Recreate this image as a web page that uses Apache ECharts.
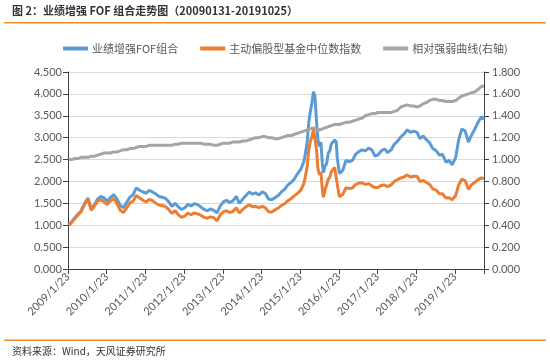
<!DOCTYPE html>
<html>
<head>
<meta charset="utf-8">
<script src="https://cdn.jsdelivr.net/npm/echarts@6/dist/echarts.min.js"></script>
<style>
html,body{margin:0;padding:0;background:#fff;}
#c{width:550px;height:364px;}
</style>
</head>
<body>
<div id="c"></div>
<script>
const dates = [
'2009-01-31','2009-02-27','2009-03-31','2009-04-30','2009-05-27','2009-06-30','2009-07-31','2009-08-31','2009-09-30','2009-10-30','2009-11-30','2009-12-31',
'2010-01-29','2010-02-26','2010-03-31','2010-04-30','2010-05-31','2010-06-30','2010-07-30','2010-08-31','2010-09-30','2010-10-29','2010-11-30','2010-12-31',
'2011-01-31','2011-02-28','2011-03-31','2011-04-29','2011-05-31','2011-06-30','2011-07-29','2011-08-31','2011-09-30','2011-10-31','2011-11-30','2011-12-30',
'2012-01-31','2012-02-29','2012-03-30','2012-04-27','2012-05-31','2012-06-29','2012-07-31','2012-08-31','2012-09-28','2012-10-31','2012-11-30','2012-12-31',
'2013-01-31','2013-02-28','2013-03-29','2013-04-26','2013-05-31','2013-06-28','2013-07-31','2013-08-30','2013-09-30','2013-10-31','2013-11-29','2013-12-31',
'2014-01-30','2014-02-28','2014-03-31','2014-04-30','2014-05-30','2014-06-30','2014-07-31','2014-08-29','2014-09-30','2014-10-31','2014-11-28','2014-12-31',
'2015-01-30','2015-02-27','2015-03-13','2015-03-31','2015-04-15','2015-04-30','2015-05-15','2015-05-29','2015-06-12','2015-06-26','2015-07-10','2015-07-24',
'2015-08-07','2015-08-21','2015-08-31','2015-09-15','2015-09-30','2015-10-16','2015-10-30','2015-11-13','2015-11-30','2015-12-15','2015-12-31',
'2016-01-08','2016-01-22','2016-01-29','2016-02-29','2016-03-31','2016-04-29','2016-05-31','2016-06-30','2016-07-29','2016-08-31','2016-09-30','2016-10-31','2016-11-30','2016-12-30',
'2017-01-26','2017-02-28','2017-03-31','2017-04-28','2017-05-31','2017-06-30','2017-07-31','2017-08-31','2017-09-29','2017-10-31','2017-11-30','2017-12-29',
'2018-01-31','2018-02-28','2018-03-30','2018-04-27','2018-05-31','2018-06-29','2018-07-31','2018-08-31','2018-09-28','2018-10-31','2018-11-30','2018-12-28',
'2019-01-31','2019-02-28','2019-03-29','2019-04-30','2019-05-31','2019-06-28','2019-07-31','2019-08-30','2019-09-30','2019-10-25'
];
const fofValues = [
1.00,1.08,1.18,1.26,1.33,1.50,1.62,1.36,1.47,1.60,1.66,1.62,
1.55,1.63,1.70,1.60,1.45,1.40,1.52,1.64,1.70,1.85,1.80,1.76,
1.73,1.80,1.76,1.72,1.66,1.64,1.62,1.54,1.43,1.50,1.42,1.36,
1.40,1.48,1.44,1.49,1.47,1.42,1.36,1.33,1.37,1.34,1.28,1.44,
1.54,1.57,1.52,1.55,1.66,1.50,1.60,1.68,1.76,1.71,1.74,1.69,
1.76,1.73,1.60,1.58,1.63,1.68,1.76,1.82,1.92,1.98,2.05,2.18,
2.28,2.45,2.62,2.90,3.35,3.60,3.80,4.05,3.95,3.40,2.95,2.80,
2.90,2.40,2.20,2.35,2.40,2.65,2.70,2.85,2.90,2.95,2.90,
2.55,2.30,2.18,2.25,2.48,2.45,2.48,2.62,2.68,2.72,2.70,2.76,2.72,2.58,
2.60,2.70,2.74,2.66,2.72,2.85,2.92,3.02,3.08,3.18,3.12,3.15,
3.12,2.98,3.04,2.96,2.88,2.75,2.70,2.60,2.62,2.44,2.48,2.38,
2.55,2.95,3.20,3.15,2.90,3.05,3.20,3.35,3.48,3.42
];
const indexValues = [
1.00,1.07,1.16,1.24,1.31,1.48,1.60,1.34,1.44,1.55,1.58,1.53,
1.47,1.55,1.61,1.50,1.34,1.29,1.39,1.51,1.55,1.68,1.62,1.57,
1.53,1.59,1.56,1.51,1.46,1.45,1.43,1.36,1.27,1.33,1.24,1.18,
1.21,1.28,1.24,1.28,1.26,1.23,1.18,1.16,1.19,1.17,1.10,1.24,
1.31,1.33,1.29,1.31,1.40,1.28,1.36,1.42,1.47,1.42,1.43,1.40,
1.43,1.40,1.31,1.30,1.35,1.39,1.45,1.49,1.56,1.61,1.67,1.73,
1.80,1.95,2.10,2.35,2.72,2.92,3.02,3.20,3.22,2.75,2.30,2.15,
2.22,1.82,1.64,1.80,1.83,2.05,2.10,2.22,2.25,2.32,2.28,
1.95,1.75,1.65,1.70,1.86,1.84,1.85,1.93,1.96,1.97,1.93,1.95,1.90,1.86,
1.86,1.91,1.92,1.88,1.92,2.00,2.04,2.08,2.10,2.15,2.10,2.12,
2.12,2.00,2.02,1.98,1.93,1.83,1.80,1.72,1.72,1.62,1.63,1.58,
1.68,1.92,2.05,2.02,1.82,1.92,1.98,2.04,2.08,2.07
];
const rsValues = [
1.00,1.00,1.01,1.01,1.02,1.02,1.02,1.03,1.03,1.04,1.05,1.06,
1.06,1.06,1.07,1.07,1.08,1.09,1.09,1.10,1.10,1.11,1.12,1.12,
1.12,1.13,1.13,1.13,1.13,1.13,1.13,1.13,1.13,1.14,1.14,1.15,
1.15,1.15,1.15,1.15,1.15,1.15,1.14,1.14,1.14,1.13,1.13,1.14,
1.15,1.15,1.15,1.16,1.16,1.16,1.17,1.17,1.18,1.19,1.20,1.20,
1.21,1.21,1.20,1.20,1.19,1.19,1.20,1.21,1.22,1.22,1.23,1.24,
1.25,1.26,1.26,1.27,1.28,1.28,1.28,1.29,1.29,1.28,1.27,1.27,
1.27,1.28,1.28,1.29,1.29,1.30,1.30,1.31,1.31,1.32,1.32,
1.32,1.32,1.32,1.33,1.34,1.34,1.35,1.36,1.37,1.38,1.40,1.41,1.42,1.42,
1.43,1.43,1.43,1.43,1.43,1.44,1.45,1.48,1.49,1.50,1.49,1.49,
1.48,1.49,1.51,1.52,1.54,1.55,1.55,1.54,1.54,1.53,1.53,1.53,
1.54,1.56,1.58,1.59,1.60,1.61,1.62,1.64,1.67,1.67
];
const leftTicks = ['0.000','0.500','1.000','1.500','2.000','2.500','3.000','3.500','4.000','4.500'];
const rightTicks = ['0.000','0.200','0.400','0.600','0.800','1.000','1.200','1.400','1.600','1.800'];
const xTickLabels = ['2009/1/23','2010/1/23','2011/1/23','2012/1/23','2013/1/23','2014/1/23','2015/1/23','2016/1/23','2017/1/23','2018/1/23','2019/1/23'];
const seriesNames = ['业绩增强FOF组合','主动偏股型基金中位数指数','相对强弱曲线(右轴)'];

const DAY = 86400000;
const base = Date.UTC(2009,0,23);
function dayOf(s){const p=s.split('-');return (Date.UTC(+p[0],+p[1]-1,+p[2])-base)/DAY;}
const xs = dates.map(dayOf);
const YEAR = 365.25;
const pair = arr => arr.map((v,i)=>[xs[i],v]);

const numFont = 'Lato, "Liberation Sans", sans-serif';
const cjk = '"Noto Sans CJK SC", sans-serif';
const chart = echarts.init(document.getElementById('c'), null, {renderer:'canvas'});
chart.setOption({
  animation:false,
  color:['#5B9BD5','#ED7D31','#A5A5A5'],
  graphic:[
    {type:'text', left:12, top:5, style:{text:'图 2：业绩增强 FOF 组合走势图（20090131-20191025）', font:'bold 11px "Noto Sans CJK SC", sans-serif', fill:'#333'}},
    {type:'rect', shape:{x:4,y:22,width:542,height:1.5}, style:{fill:'#F28A2E'}},
    {type:'rect', shape:{x:4,y:339.5,width:542,height:1.5}, style:{fill:'#F28A2E'}},
    {type:'text', left:12, top:346, style:{text:'资料来源：Wind，天风证券研究所', font:'10px "Noto Sans CJK SC", sans-serif', fill:'#333'}}
  ],
  legend:{
    top:38, left:58,
    itemWidth:25, itemHeight:4, itemGap:22,
    icon:'rect',
    textStyle:{fontFamily:cjk, fontSize:11, color:'#595959', padding:[0,0,0,-1]},
    data:seriesNames
  },
  grid:{left:68, right:66, top:72, bottom:95, containLabel:false},
  xAxis:{
    type:'value', min:0, max:dayOf('2019-10-25'), interval:YEAR,
    axisLine:{lineStyle:{color:'#404040',width:1}},
    axisTick:{show:true, length:5, lineStyle:{color:'#404040'}},
    splitLine:{show:false},
    axisLabel:{
      rotate:45, fontFamily:numFont, fontSize:11, color:'#595959', margin:6, hideOverlap:false,
      formatter:function(v){const k=Math.round(v/YEAR); if(Math.abs(v-k*YEAR)>1||k>=xTickLabels.length) return ''; return xTickLabels[k];}
    }
  },
  yAxis:[
    {type:'value', min:0, max:4.5, interval:0.5, position:'left',
     axisLine:{show:true, lineStyle:{color:'#404040'}},
     axisTick:{show:true, length:5, lineStyle:{color:'#404040'}},
     splitLine:{show:true, lineStyle:{color:'#D9D9D9', width:1}},
     axisLabel:{fontFamily:numFont, fontSize:11, color:'#595959', margin:6,
       formatter:function(v){return leftTicks[Math.round(v/0.5)];}}},
    {type:'value', min:0, max:1.8, interval:0.2, position:'right',
     axisLine:{show:true, lineStyle:{color:'#404040'}},
     axisTick:{show:true, length:5, lineStyle:{color:'#404040'}},
     splitLine:{show:false},
     axisLabel:{fontFamily:numFont, fontSize:11, color:'#595959', margin:8,
       formatter:function(v){return rightTicks[Math.round(v/0.2)];}}}
  ],
  series:[
    {name:seriesNames[0], type:'line', yAxisIndex:0, data:pair(fofValues), showSymbol:false, lineStyle:{width:3}},
    {name:seriesNames[1], type:'line', yAxisIndex:0, data:pair(indexValues), showSymbol:false, lineStyle:{width:3}},
    {name:seriesNames[2], type:'line', yAxisIndex:1, data:pair(rsValues), showSymbol:false, lineStyle:{width:3}}
  ]
});
</script>
</body>
</html>
